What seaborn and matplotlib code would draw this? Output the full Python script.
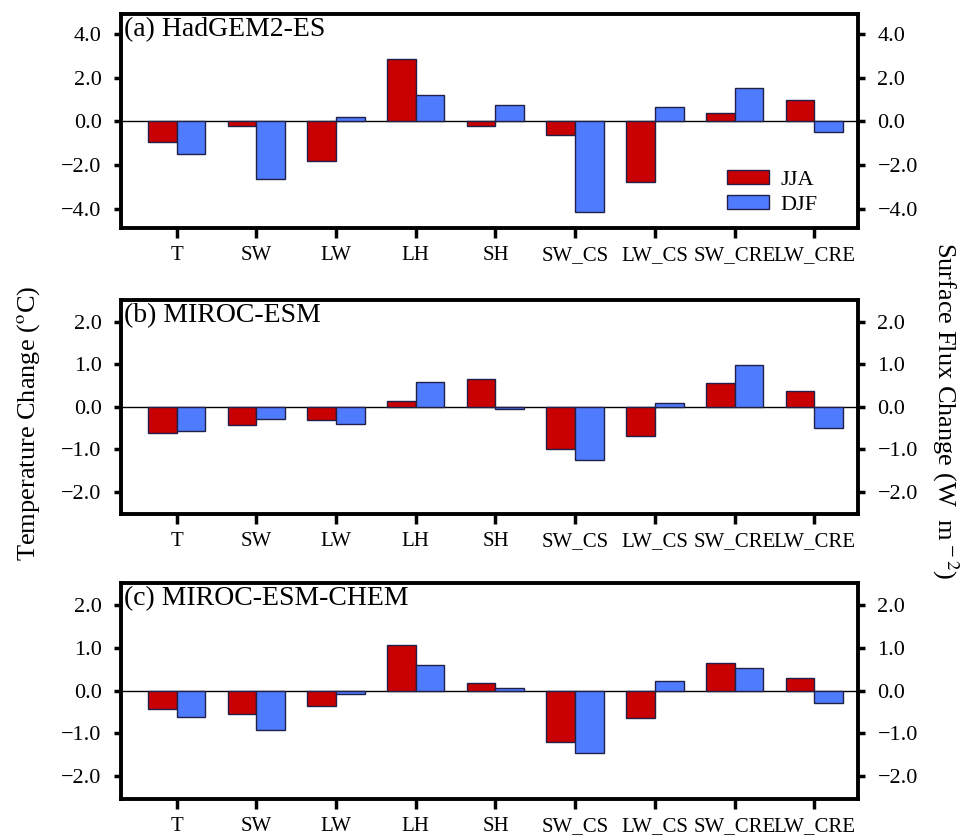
import matplotlib
matplotlib.use("Agg")
import matplotlib.pyplot as plt
import seaborn as sns
import pandas as pd
import numpy as np

categories = ["T", "SW", "LW", "LH", "SH", "SW_CS", "LW_CS", "SW_CRE", "LW_CRE"]
seasons = ["JJA", "DJF"]

had_jja = [-0.97, -0.23, -1.82, 2.85, -0.23, -0.64, -2.80, 0.39, 0.97]
had_djf = [-1.52, -2.65, 0.20, 1.21, 0.76, -4.15, 0.65, 1.50, -0.48]
miroc_jja = [-0.62, -0.42, -0.31, 0.14, 0.655, -0.99, -0.69, 0.56, 0.37]
miroc_djf = [-0.58, -0.28, -0.405, 0.59, -0.05, -1.25, 0.09, 0.97, -0.50]
chem_jja = [-0.42, -0.545, -0.35, 1.07, 0.17, -1.19, -0.64, 0.65, 0.29]
chem_djf = [-0.61, -0.92, -0.07, 0.61, 0.06, -1.46, 0.22, 0.54, -0.28]

titles = ["(a) HadGEM2-ES", "(b) MIROC-ESM", "(c) MIROC-ESM-CHEM"]
panel_series = [(had_jja, had_djf), (miroc_jja, miroc_djf), (chem_jja, chem_djf)]
yticks_list = [[-4, -2, 0, 2, 4], [-2, -1, 0, 1, 2], [-2, -1, 0, 1, 2]]
ylims = [(-4.9, 4.9), (-2.53, 2.52), (-2.53, 2.52)]

colors = {"JJA": "#C80000", "DJF": "#4F7CFF"}
edge = "#202048"

sns.set_theme(style="white")
plt.rcParams["font.family"] = ["Liberation Serif", "DejaVu Serif"]
plt.rcParams["mathtext.fontset"] = "stix"
plt.rcParams["axes.unicode_minus"] = True
plt.rcParams["text.color"] = "black"
plt.rcParams["axes.labelcolor"] = "black"
plt.rcParams["xtick.color"] = "black"
plt.rcParams["ytick.color"] = "black"

fig = plt.figure(figsize=(9.63, 8.39), dpi=100)
left, right = 0.1256, 0.891
boxes = [(0.728, 0.983), (0.387, 0.643), (0.048, 0.305)]

for i, ((jja, djf), title, yt, yl, (b, t)) in enumerate(
        zip(panel_series, titles, yticks_list, ylims, boxes)):
    ax = fig.add_axes([left, b, right - left, t - b])
    df = pd.DataFrame({
        "cat": categories * 2,
        "season": ["JJA"] * len(categories) + ["DJF"] * len(categories),
        "val": list(jja) + list(djf),
    })
    sns.barplot(data=df, x="cat", y="val", hue="season", order=categories,
                hue_order=seasons, palette=colors, width=0.72, saturation=1,
                edgecolor=edge, linewidth=1.0, ax=ax, legend=(i == 0),
                errorbar=None)
    ax.axhline(0, color="black", lw=1.0, zorder=0.5)
    ax.set_xlim(-0.7, 8.55)
    ax.set_ylim(*yl)
    ax.set_yticks(yt)
    ax.set_yticklabels([f"{v:.1f}".replace("-", "\u2212") for v in yt], fontsize=16)
    ax.set_xticks(range(len(categories)))
    ax.set_xticklabels(categories, fontsize=15)
    ax.set_xlabel("")
    ax.set_ylabel("")
    for s in ax.spines.values():
        s.set_visible(True)
        s.set_linewidth(2.8)
        s.set_color("black")
    ax.tick_params(axis="y", which="both", left=True, right=True,
                   labelleft=True, labelright=True, direction="out",
                   length=5, width=2.5, pad=9, colors="black")
    ax.tick_params(axis="x", bottom=True, direction="out", length=7,
                   width=2.5, pad=6, colors="black")
    ax.text(0.004, 0.985, title, transform=ax.transAxes, ha="left", va="top",
            fontsize=20, color="black")
    if i == 0:
        leg = ax.legend(loc="lower right", bbox_to_anchor=(0.957, 0.02),
                        borderaxespad=0, frameon=False, fontsize=16,
                        handlelength=1.9, handleheight=0.6, labelspacing=0.22,
                        handletextpad=0.5)
        for h in leg.legend_handles:
            h.set_edgecolor(edge)
            h.set_linewidth(1.0)
        for txt in leg.get_texts():
            txt.set_color("black")

fig.text(0.03, 0.495, "Temperature Change ($^{\\mathrm{o}}$C)", rotation=90,
         ha="center", va="center", fontsize=19, color="black")
fig.text(0.982, 0.511, "Surface Flux Change (W  m$^{\\,-2}$)", rotation=-90,
         ha="center", va="center", fontsize=19, color="black")

fig.savefig("out.png", dpi=100)
